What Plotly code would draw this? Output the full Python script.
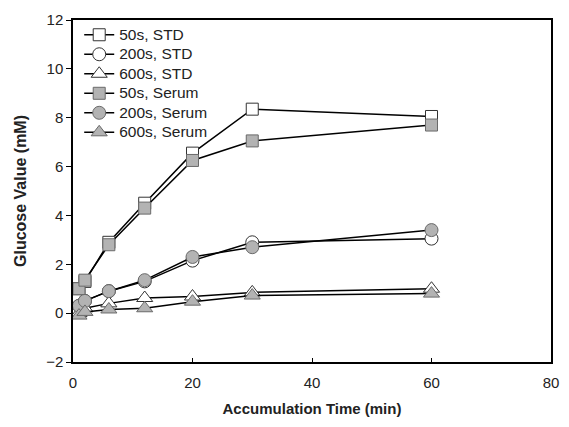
import plotly.graph_objects as go

time_min = [1, 2, 6, 12, 20, 30, 60]

std_50 = [1.0, 1.3, 2.9, 4.5, 6.55, 8.35, 8.05]
std_200 = [0.3, 0.5, 0.9, 1.3, 2.15, 2.9, 3.05]
std_600 = [0.0, 0.2, 0.4, 0.62, 0.68, 0.85, 1.0]

serum_50 = [1.0, 1.35, 2.8, 4.3, 6.25, 7.05, 7.7]
serum_200 = [0.3, 0.5, 0.9, 1.35, 2.3, 2.7, 3.4]
serum_600 = [-0.1, 0.05, 0.15, 0.2, 0.47, 0.72, 0.8]

names = ["50s, STD", "200s, STD", "600s, STD", "50s, Serum", "200s, Serum", "600s, Serum"]
series = [std_50, std_200, std_600, serum_50, serum_200, serum_600]
symbols = ["square", "circle", "triangle-up", "square", "circle", "triangle-up"]
sizes = [12, 13, 14, 12, 13, 14]
fills = ["white", "white", "white", "#b3b3b3", "#b3b3b3", "#b3b3b3"]
outlines = ["#333333", "#333333", "#333333", "#6a6a6a", "#6a6a6a", "#6a6a6a"]

fig = go.Figure()
for nm, ys, sym, sz, fc, oc in zip(names, series, symbols, sizes, fills, outlines):
    fig.add_trace(go.Scatter(
        x=time_min, y=ys, name='<span style="font-size:15.5px">' + nm + '</span>',
        mode="lines+markers",
        line=dict(color="black", width=1.5),
        marker=dict(symbol=sym, size=sz, color=fc, line=dict(color=oc, width=1)),
    ))

font_family = "Liberation Sans, Arial, sans-serif"

fig.update_layout(
    width=569, height=427,
    margin=dict(l=73, r=10, t=20, b=65),
    paper_bgcolor="white", plot_bgcolor="white",
    font=dict(family=font_family, size=15, color="#222222"),
    showlegend=True,
    legend=dict(
        x=0.013, y=1.0, xanchor="left", yanchor="top",
        bgcolor="rgba(0,0,0,0)", borderwidth=0,
        font=dict(size=12.7, color="#222222"),
        tracegroupgap=0,
    ),
    xaxis=dict(
        range=[0, 80], tickvals=[0, 20, 40, 60, 80],
        showgrid=False, zeroline=False,
        showline=True, linecolor="black", linewidth=1.5, mirror=True,
        ticks="inside", ticklen=4, tickcolor="black",
        tickfont=dict(size=15), ticklabelstandoff=6,
        title=dict(text="<b>Accumulation Time (min)</b>", font=dict(size=15), standoff=14),
    ),
    yaxis=dict(
        range=[-2, 12], tickvals=[-2, 0, 2, 4, 6, 8, 10, 12],
        showgrid=False, zeroline=False,
        showline=True, linecolor="black", linewidth=1.5, mirror=True,
        ticks="outside", ticklen=5, tickcolor="black",
        tickfont=dict(size=15),
        title=dict(text="<b>Glucose Value (mM)</b>", font=dict(size=16), standoff=16),
    ),
)

fig.write_html("out.html")
